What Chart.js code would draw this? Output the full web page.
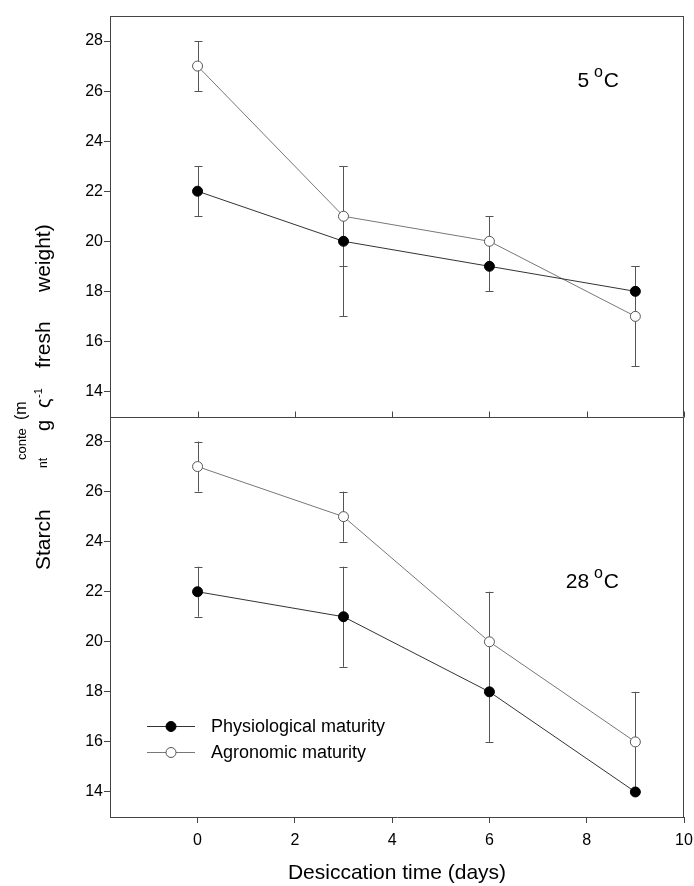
<!DOCTYPE html>
<html>
<head>
<meta charset="utf-8">
<script src="https://cdn.jsdelivr.net/npm/chart.js"></script>
<style>html,body{margin:0;padding:0;background:#fff;}</style>
</head>
<body>
<canvas id="chart" width="694" height="886"></canvas>
<script>
const days = [0, 3, 6, 9];
const xTicks = [0, 2, 4, 6, 8, 10];
const yTicks = [14, 16, 18, 20, 22, 24, 26, 28];

// 5 °C
const physio5 = [22, 20, 19, 18];
const physio5Err = [1, 3, 1, 1];
const agro5 = [27, 21, 20, 17];
const agro5Err = [1, 2, 1, 2];

// 28 °C
const physio28 = [22, 21, 18, 14];
const physio28Err = [1, 2, 2, 0];
const agro28 = [27, 25, 20, 16];
const agro28Err = [1, 1, 2, 2];

const seriesNames = ['Physiological maturity', 'Agronomic maturity'];
const panelTemps = ['5', '28'];

const FONT = 'Arial, "Liberation Sans", sans-serif';
const AXIS = '#444';

function pts(vals) { return days.map((d, i) => ({ x: d, y: vals[i] })); }

function physioSet(vals, err, axis) {
  return {
    label: seriesNames[0], data: pts(vals), errors: err, yAxisID: axis,
    showLine: true, borderColor: '#333', borderWidth: 1,
    pointRadius: 5, pointBackgroundColor: '#000', pointBorderColor: '#000', pointBorderWidth: 1
  };
}
function agroSet(vals, err, axis) {
  return {
    label: seriesNames[1], data: pts(vals), errors: err, yAxisID: axis,
    showLine: true, borderColor: '#777', borderWidth: 1,
    pointRadius: 5, pointBackgroundColor: '#fff', pointBorderColor: '#555', pointBorderWidth: 1
  };
}

function yAxis() {
  return {
    type: 'linear', position: 'left', stack: 'panels', stackWeight: 1,
    min: 13, max: 29,
    afterBuildTicks: s => { s.ticks = yTicks.map(v => ({ value: v })); },
    afterFit: s => { s.width = 110; },
    grid: { drawOnChartArea: false, drawTicks: true, tickLength: 6, color: AXIS },
    border: { display: true, color: AXIS, width: 1 },
    ticks: { color: '#000', padding: 1, font: { family: FONT, size: 16 } }
  };
}

// error bars, sitting under the markers
const errorBars = {
  id: 'errorBars',
  beforeDatasetsDraw(chart) {
    const ctx = chart.ctx, xs = chart.scales.x;
    ctx.save();
    ctx.strokeStyle = '#555';
    ctx.lineWidth = 1;
    chart.data.datasets.forEach(ds => {
      const ys = chart.scales[ds.yAxisID];
      ds.data.forEach((p, i) => {
        const e = ds.errors[i];
        if (!e) return;
        const x = Math.round(xs.getPixelForValue(p.x)) + 0.5;
        const y1 = ys.getPixelForValue(p.y + e), y2 = ys.getPixelForValue(p.y - e);
        ctx.beginPath();
        ctx.moveTo(x, y1); ctx.lineTo(x, y2);
        ctx.moveTo(x - 4, Math.round(y1) + 0.5); ctx.lineTo(x + 4, Math.round(y1) + 0.5);
        ctx.moveTo(x - 4, Math.round(y2) + 0.5); ctx.lineTo(x + 4, Math.round(y2) + 0.5);
        ctx.stroke();
      });
    });
    ctx.restore();
  }
};

// frame, divider, panel temperatures, legend and the split y title
const decorations = {
  id: 'decorations',
  afterDraw(chart) {
    const ctx = chart.ctx, a = chart.chartArea, xs = chart.scales.x;
    const top = chart.scales.yTop, bot = chart.scales.yBot;
    ctx.save();
    ctx.strokeStyle = AXIS;
    ctx.lineWidth = 1;
    const divY = Math.round(top.bottom) + 0.5;
    ctx.beginPath();
    ctx.moveTo(a.left, Math.round(a.top) + 0.5); ctx.lineTo(a.right, Math.round(a.top) + 0.5);
    ctx.moveTo(Math.round(a.right) - 0.5, a.top); ctx.lineTo(Math.round(a.right) - 0.5, a.bottom);
    ctx.moveTo(a.left, divY); ctx.lineTo(a.right, divY);
    xTicks.forEach(v => {
      const x = Math.round(xs.getPixelForValue(v)) + 0.5;
      ctx.moveTo(x, divY); ctx.lineTo(x, divY - 6);
    });
    ctx.stroke();

    // temperature tags
    ctx.fillStyle = '#000';
    ctx.textBaseline = 'alphabetic';
    [[top, 71], [bot, 171]].forEach(([s, dy], i) => {
      ctx.font = '21px ' + FONT;
      const mainW = ctx.measureText(panelTemps[i] + ' ').width;
      const cW = ctx.measureText('C').width;
      ctx.font = '16px ' + FONT;
      const oW = ctx.measureText('o').width;
      const right = a.right - 65;
      const x0 = right - (mainW + oW + cW);
      const base = s.top + dy;
      ctx.font = '21px ' + FONT;
      ctx.fillText(panelTemps[i], x0, base);
      ctx.fillText('C', x0 + mainW + oW, base);
      ctx.font = '16px ' + FONT;
      ctx.fillText('o', x0 + mainW - 1, base - 10);
    });

    // legend
    const sets = chart.data.datasets.slice(2, 4);
    sets.forEach((ds, i) => {
      const y = a.bottom - 91 + i * 26;
      const x1 = a.left + 37, x2 = a.left + 85, xm = a.left + 61;
      ctx.strokeStyle = ds.borderColor;
      ctx.beginPath();
      ctx.moveTo(x1, Math.round(y) + 0.5); ctx.lineTo(x2, Math.round(y) + 0.5);
      ctx.stroke();
      ctx.beginPath();
      ctx.arc(xm, y + 0.5, 5, 0, Math.PI * 2);
      ctx.fillStyle = ds.pointBackgroundColor;
      ctx.fill();
      ctx.strokeStyle = ds.pointBorderColor;
      ctx.stroke();
      ctx.fillStyle = '#000';
      ctx.font = '18px ' + FONT;
      ctx.textBaseline = 'middle';
      ctx.fillText(ds.label, a.left + 101, y + 1);
    });

    // y title, broken into pieces along two columns
    const pieces = [
      [44, 570, 'Starch', 21], [44, 468, 'nt', 12], [44, 431, 'g', 20],
      [44, 408, 'ς', 20], [39, 398, '-1', 11], [44, 368, 'fresh', 21],
      [44, 292, 'weight)', 21], [22, 460, 'conte', 13], [22, 420, '(m', 16]
    ];
    ctx.fillStyle = '#000';
    ctx.textBaseline = 'middle';
    pieces.forEach(([x, y, t, f]) => {
      ctx.save();
      ctx.translate(x, y);
      ctx.rotate(-Math.PI / 2);
      ctx.font = f + 'px ' + FONT;
      ctx.fillText(t, 0, 0);
      ctx.restore();
    });
    ctx.restore();
  }
};

new Chart(document.getElementById('chart'), {
  type: 'scatter',
  data: {
    datasets: [
      physioSet(physio5, physio5Err, 'yTop'),
      agroSet(agro5, agro5Err, 'yTop'),
      physioSet(physio28, physio28Err, 'yBot'),
      agroSet(agro28, agro28Err, 'yBot')
    ]
  },
  options: {
    responsive: false,
    animation: false,
    devicePixelRatio: 1,
    layout: { padding: { top: 16, right: 0, left: 0, bottom: 0 } },
    plugins: { legend: { display: false }, tooltip: { enabled: false } },
    scales: {
      x: {
        type: 'linear', position: 'bottom', min: -1.8, max: 10,
        afterBuildTicks: s => { s.ticks = xTicks.map(v => ({ value: v })); },
        // let the "10" label hang past the frame on the right
        afterFit: s => { s.height = 69; s.paddingRight = 10; s.paddingLeft = 0; },
        grid: { drawOnChartArea: false, drawTicks: true, tickLength: 6, color: AXIS },
        border: { display: true, color: AXIS, width: 1 },
        ticks: { color: '#000', padding: 8, maxRotation: 0, font: { family: FONT, size: 16 } },
        title: { display: true, text: 'Desiccation time (days)', color: '#000',
                 padding: { top: 0, bottom: 0 }, font: { family: FONT, size: 21 } }
      },
      // stacked axes are laid out bottom-up in definition order
      yBot: yAxis(),
      yTop: yAxis()
    }
  },
  plugins: [errorBars, decorations]
});
</script>
</body>
</html>
